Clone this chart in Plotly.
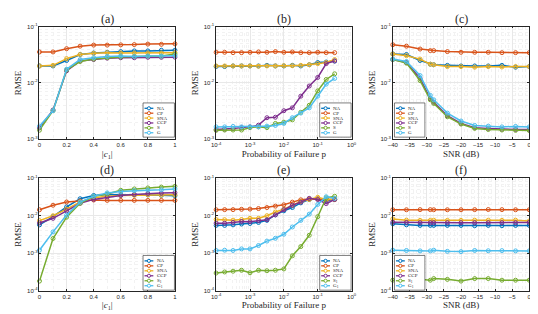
import plotly.graph_objects as go

# ---------------- data ----------------
names_top = ["NA", "CP", "SNA", "CCP", "S", "G"]
names_bottom = ["NA", "CP", "SNA", "CCP", "S<sub>1</sub>", "G<sub>1</sub>"]
colors = ["#0072BD", "#D95319", "#EDB120", "#7E2F8E", "#77AC30", "#4DBEEE"]

c1_vals = [0.0, 0.1, 0.2, 0.3, 0.4, 0.5, 0.6, 0.7, 0.8, 0.9, 1.0]
pf_vals = [1e-4, 1.78e-4, 3.16e-4, 5.62e-4, 1e-3, 1.78e-3, 3.16e-3, 5.62e-3,
           1e-2, 1.78e-2, 3.16e-2, 5.62e-2, 1e-1, 1.78e-1, 3.16e-1]
snr_vals = [-40, -36, -32, -29, -28, -24, -20, -16, -12, -8, -4, 0]

# (a)
NA_a = [0.020, 0.020, 0.025, 0.032, 0.034, 0.035, 0.036, 0.037, 0.037, 0.038, 0.038]
CP_a = [0.0355, 0.0355, 0.0406, 0.045, 0.047, 0.047, 0.0475, 0.048, 0.049, 0.0485, 0.0495]
SNA_a = [0.020, 0.0205, 0.027, 0.032, 0.0335, 0.0345, 0.034, 0.034, 0.034, 0.034, 0.0345]
CCP_a = [0.00158, 0.0033, 0.0164, 0.0245, 0.026, 0.0275, 0.028, 0.028, 0.0285, 0.0285, 0.0287]
S_a = [0.00144, 0.0032, 0.017, 0.024, 0.0265, 0.028, 0.029, 0.0295, 0.030, 0.030, 0.0325]
G_a = [0.0017, 0.0032, 0.0175, 0.026, 0.028, 0.0295, 0.030, 0.0295, 0.030, 0.030, 0.0305]

# (b)
NA_b = [0.0195, 0.0195, 0.020, 0.020, 0.020, 0.020, 0.0205, 0.020, 0.020, 0.0205, 0.020, 0.021, 0.023, 0.0235, 0.0245]
CP_b = [0.035, 0.035, 0.0345, 0.0345, 0.035, 0.0355, 0.035, 0.036, 0.035, 0.0355, 0.0345, 0.0345, 0.035, 0.0345, 0.0345]
SNA_b = [0.020, 0.020, 0.020, 0.020, 0.020, 0.0198, 0.020, 0.020, 0.0202, 0.0202, 0.0205, 0.021, 0.022, 0.023, 0.026]
CCP_b = [0.00148, 0.0015, 0.00155, 0.0016, 0.00165, 0.00177, 0.0024, 0.00245, 0.0032, 0.0036, 0.0058, 0.0088, 0.0125, 0.022, 0.0245]
S_b = [0.00143, 0.00145, 0.00145, 0.00145, 0.0016, 0.00165, 0.0016, 0.0019, 0.0020, 0.0022, 0.0030, 0.0040, 0.0072, 0.0115, 0.0145]
G_b = [0.00165, 0.00165, 0.00168, 0.00165, 0.00165, 0.00165, 0.0017, 0.00175, 0.0019, 0.0024, 0.0029, 0.0036, 0.0058, 0.0095, 0.012]

# (c)
NA_c = [0.0328, 0.032, 0.025, 0.0215, 0.021, 0.0205, 0.020, 0.020, 0.020, 0.0205, 0.019, 0.0195]
CP_c = [0.0477, 0.045, 0.040, 0.0375, 0.0375, 0.036, 0.035, 0.035, 0.035, 0.0345, 0.0345, 0.0345]
SNA_c = [0.0325, 0.0305, 0.0265, 0.0215, 0.021, 0.0195, 0.0195, 0.019, 0.0195, 0.0192, 0.0195, 0.0195]
CCP_c = [0.026, 0.023, 0.012, 0.0052, 0.0045, 0.0026, 0.0019, 0.0016, 0.00155, 0.0015, 0.00148, 0.00148]
S_c = [0.026, 0.0225, 0.011, 0.005, 0.0043, 0.0025, 0.00185, 0.00155, 0.00148, 0.00145, 0.00143, 0.00142]
G_c = [0.0265, 0.024, 0.0135, 0.006, 0.005, 0.0029, 0.0021, 0.00175, 0.0017, 0.00165, 0.00168, 0.00165]

# (d)
NA_d = [0.0057, 0.0094, 0.0172, 0.0283, 0.0346, 0.037, 0.036, 0.036, 0.036, 0.035, 0.034]
CP_d = [0.0144, 0.019, 0.0232, 0.0246, 0.0262, 0.0256, 0.0256, 0.0256, 0.0256, 0.0256, 0.0256]
SNA_d = [0.0074, 0.010, 0.0149, 0.0232, 0.030, 0.0332, 0.0346, 0.035, 0.036, 0.0355, 0.036]
CCP_d = [0.0064, 0.0085, 0.0135, 0.0214, 0.0272, 0.0313, 0.0346, 0.037, 0.039, 0.040, 0.041]
S_d = [0.00018, 0.00246, 0.0091, 0.0214, 0.033, 0.038, 0.0477, 0.0517, 0.055, 0.058, 0.0606]
G_d = [0.0012, 0.0037, 0.0104, 0.023, 0.033, 0.0406, 0.044, 0.0467, 0.048, 0.049, 0.0517]

# (e)
NA_e = [0.0055, 0.0055, 0.0057, 0.006, 0.0062, 0.0066, 0.0075, 0.0105, 0.0135, 0.0165, 0.022, 0.027, 0.028, 0.025, 0.027]
CP_e = [0.0144, 0.0145, 0.0145, 0.0148, 0.015, 0.0155, 0.0165, 0.018, 0.0195, 0.023, 0.0265, 0.028, 0.028, 0.027, 0.027]
SNA_e = [0.0079, 0.0078, 0.0076, 0.0079, 0.0085, 0.0085, 0.010, 0.0125, 0.015, 0.019, 0.024, 0.027, 0.031, 0.027, 0.027]
CCP_e = [0.0063, 0.0063, 0.0066, 0.007, 0.0069, 0.0074, 0.0078, 0.0105, 0.0145, 0.019, 0.023, 0.029, 0.027, 0.021, 0.027]
S_e = [0.000295, 0.000315, 0.00033, 0.00035, 0.0003, 0.00035, 0.00034, 0.00035, 0.00038, 0.00085, 0.0015, 0.003, 0.0094, 0.030, 0.033]
G_e = [0.00118, 0.0012, 0.00118, 0.0013, 0.0013, 0.0016, 0.0021, 0.0025, 0.0032, 0.005, 0.0075, 0.011, 0.020, 0.032, 0.029]

# (f)
NA_f = [0.0061, 0.0057, 0.0055, 0.0055, 0.0055, 0.0055, 0.0055, 0.0054, 0.0055, 0.0054, 0.0055, 0.0055]
CP_f = [0.0144, 0.0144, 0.0145, 0.0145, 0.0144, 0.0144, 0.0144, 0.0145, 0.0146, 0.0145, 0.0144, 0.0144]
SNA_f = [0.0082, 0.0076, 0.0075, 0.0075, 0.0076, 0.0075, 0.0075, 0.0076, 0.0076, 0.0075, 0.0076, 0.0072]
CCP_f = [0.0067, 0.0066, 0.0065, 0.0065, 0.0065, 0.0065, 0.0065, 0.0065, 0.0065, 0.0065, 0.0065, 0.0066]
S_f = [0.00019, 0.00019, 0.0002, 0.00019, 0.00021, 0.0002, 0.00018, 0.00021, 0.00021, 0.00019, 0.00019, 0.00019]
G_f = [0.0012, 0.00118, 0.00115, 0.00115, 0.0012, 0.00112, 0.0011, 0.00118, 0.00116, 0.00117, 0.00115, 0.00115]

panel_titles = ["(a)", "(b)", "(c)", "(d)", "(e)", "(f)"]
x_titles = ["|<i>c</i><sub>1</sub>|", "Probability of Failure p", "SNR (dB)",
            "|<i>c</i><sub>1</sub>|", "Probability of Failure p", "SNR (dB)"]
y_title = "RMSE"
log_tick_text = {-4: "10<sup>-4</sup>", -3: "10<sup>-3</sup>", -2: "10<sup>-2</sup>",
                 -1: "10<sup>-1</sup>", 0: "10<sup>0</sup>"}

panels = [
    (c1_vals, [NA_a, CP_a, SNA_a, CCP_a, S_a, G_a], names_top),
    (pf_vals, [NA_b, CP_b, SNA_b, CCP_b, S_b, G_b], names_top),
    (snr_vals, [NA_c, CP_c, SNA_c, CCP_c, S_c, G_c], names_top),
    (c1_vals, [NA_d, CP_d, SNA_d, CCP_d, S_d, G_d], names_bottom),
    (pf_vals, [NA_e, CP_e, SNA_e, CCP_e, S_e, G_e], names_bottom),
    (snr_vals, [NA_f, CP_f, SNA_f, CCP_f, S_f, G_f], names_bottom),
]

# ---------------- layout geometry ----------------
W, H = 538, 314
col_px = [(27, 165), (207, 345), (387, 526)]
row_px = [(15, 130), (170, 285)]

SERIF = "Liberation Serif"
SANS = "Liberation Sans"
AXC = "#262626"
GRID = "#e8e8e8"
MGRID = "#f2f2f2"

fig = go.Figure()
layout = dict(width=W, height=H, margin=dict(l=0, r=0, t=0, b=0),
              paper_bgcolor="white", plot_bgcolor="white", showlegend=False)
shapes = []
annotations = []

for i, (xv, ys, names) in enumerate(panels):
    k = i + 1
    r, c = divmod(i, 3)
    xs = "" if k == 1 else str(k)
    x0p, x1p = col_px[c]
    y0p, y1p = row_px[r]
    xdom = [x0p / W, x1p / W]
    ydom = [1 - y1p / H, 1 - y0p / H]
    for j, y in enumerate(ys):
        fig.add_trace(go.Scatter(
            x=xv, y=y, mode="lines+markers", name=names[j],
            line=dict(color=colors[j], width=1.5),
            marker=dict(symbol="circle-open", size=4, color=colors[j], line=dict(width=1)),
            xaxis="x" + xs, yaxis="y" + xs, cliponaxis=False))

    common = dict(showline=True, linecolor=AXC, linewidth=0.6, mirror="ticks",
                  ticks="inside", ticklen=2, tickwidth=0.6, tickcolor=AXC,
                  tickfont=dict(family=SANS, size=6, color=AXC),
                  showgrid=True, gridcolor=GRID, gridwidth=0.6, zeroline=False)
    minor_common = dict(showgrid=True, gridcolor=MGRID, griddash="dot", gridwidth=0.6, ticks="")
    if c == 0:
        xa = dict(type="linear", range=[0, 1], dtick=0.2, tick0=0,
                  minor=dict(dtick=0.1, **minor_common))
    elif c == 1:
        xa = dict(type="log", range=[-4, 0], tickvals=[1e-4, 1e-3, 1e-2, 1e-1, 1],
                  ticktext=[log_tick_text[p] for p in [-4, -3, -2, -1, 0]],
                  minor=dict(dtick="D1", **minor_common))
    else:
        xa = dict(type="linear", range=[-40, 0], dtick=5, tick0=0,
                  minor=dict(dtick=1, **minor_common))
    xa.update(common)
    xa.update(domain=xdom, anchor="y" + xs,
              title=dict(text=x_titles[i], font=dict(family=SERIF, size=9, color=AXC), standoff=3))
    layout["xaxis" + xs] = xa

    if r == 0:
        yr = [-3, -1]
        pw = [-3, -2, -1]
    else:
        yr = [-4, -1]
        pw = [-4, -3, -2, -1]
    ya = dict(type="log", range=yr, tickvals=[10.0 ** p for p in pw],
              ticktext=[log_tick_text[p] for p in pw],
              minor=dict(dtick="D1", **minor_common))
    ya.update(common)
    ya.update(domain=ydom, anchor="x" + xs,
              title=dict(text=y_title, font=dict(family=SERIF, size=9, color=AXC), standoff=3))
    layout["yaxis" + xs] = ya

    # panel title
    annotations.append(dict(text=panel_titles[i], xref="paper", yref="paper",
                            x=(x0p + x1p) / 2 / W, y=1 - (y0p - 8) / H,
                            xanchor="center", yanchor="middle", showarrow=False,
                            font=dict(family=SERIF, size=12, color=AXC)))

    # custom legend box in axis-domain coordinates
    xr = "x" + xs + " domain" if xs else "x domain"
    yrf = "y" + xs + " domain" if xs else "y domain"
    wpx = x1p - x0p
    hpx = y1p - y0p
    if c == 2:
        bx0, bx1 = 1.7, 32.7
    else:
        bx0, bx1 = wpx - 32.5, wpx - 0.5
    if r == 0:
        by0, by1 = 2.0, 37.0   # px from bottom of plot
    else:
        by0, by1 = 0.5, 36.0
    shapes.append(dict(type="rect", xref=xr, yref=yrf, x0=bx0 / wpx, x1=bx1 / wpx,
                       y0=by0 / hpx, y1=by1 / hpx, fillcolor="white",
                       line=dict(color=AXC, width=0.6), layer="above"))
    step = (by1 - by0 - 5) / 6
    for j in range(6):
        yc = (by1 - 3.0 - step * (j + 0.5)) / hpx
        lx0 = (bx0 + 1.5) / wpx
        lx1 = (bx0 + 10.5) / wpx
        mx = (bx0 + 6.0) / wpx
        shapes.append(dict(type="line", xref=xr, yref=yrf, x0=lx0, x1=lx1, y0=yc, y1=yc,
                           line=dict(color=colors[j], width=1.3), layer="above"))
        shapes.append(dict(type="circle", xref=xr, yref=yrf, xsizemode="pixel", ysizemode="pixel",
                           xanchor=mx, yanchor=yc, x0=-1.6, x1=1.6, y0=-1.6, y1=1.6,
                           fillcolor="white", line=dict(color=colors[j], width=1), layer="above"))
        annotations.append(dict(text=names[j], xref=xr, yref=yrf, x=(bx0 + 12.0) / wpx, y=yc,
                                xanchor="left", yanchor="middle", showarrow=False,
                                font=dict(family=SERIF, size=5, color=AXC)))

layout["shapes"] = shapes
layout["annotations"] = annotations
fig.update_layout(**layout)
fig.write_html("out.html")
